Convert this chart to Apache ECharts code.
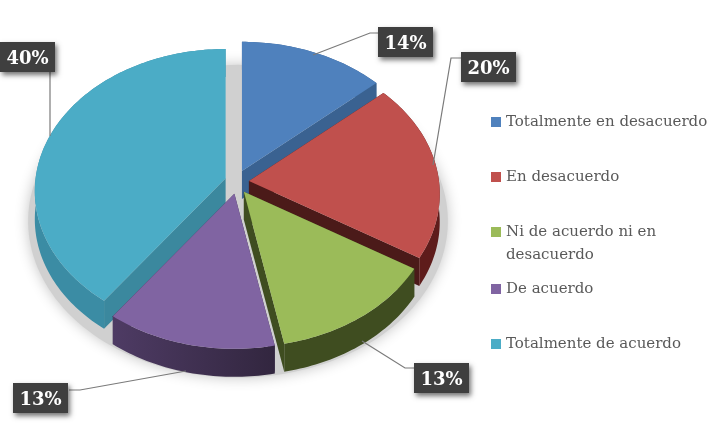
<!DOCTYPE html>
<html><head><meta charset="utf-8">
<style>html,body{margin:0;background:#fff}#c{width:720px;height:432px;filter:blur(0.4px)}</style>
<script src="https://cdn.jsdelivr.net/npm/echarts@6/dist/echarts.min.js"></script>
</head><body><div id="c"></div>
<script>
const categories = ['Totalmente en desacuerdo','En desacuerdo','Ni de acuerdo ni en desacuerdo','De acuerdo','Totalmente de acuerdo'];
const values = [13.5,20.2,13.2,13.2,39.9];
const topColors = ['#4F81BD','#C0504D','#9BBB59','#8064A2','#4BACC6'];
const faceColors = ['#3A6291','#4B1A19','#3F4D20','#3A2A4D','#3B889E'];
const wallLeft = ['#3A6291','#5E1C1B','#3F4D20','#4E3B64','#3B8CA4'];
const wallRight = ['#3A6291','#5E1C1B','#3F4D20','#32263F','#3B8CA4'];
const paintOrder = [0,4,1,2,3];
const labelBoxes = [[378,27],[461,52],[414,363],[13,383],[0,42]];
const leaderLines = [
  [[313,55],[370,33],[378,33]],
  [[433,165],[451,58],[461,58]],
  [[362,341],[405,368],[414,368]],
  [[186,371],[80,390],[69,390]],
  [[50,136],[50,72]]
];
const G = {cx:237, cy:182, rx:190, ry:141, p:0.0909, depth:28, explode:12};
const total = values.reduce((a,b)=>a+b,0);
function proj(cx,cy,t,s){
  s = s||1;
  const X=Math.sin(t), Y=-Math.cos(t), w=1-G.p*Y;
  return [cx+s*G.rx*X/w, cy+s*G.ry*Y/w];
}
function sliceRender(i){
  return function(params, api){
    let before=0; for(let k=0;k<i;k++) before+=values[k];
    const a0=before/total*2*Math.PI, a1=(before+api.value(0))/total*2*Math.PI, mid=(a0+a1)/2;
    const ax=G.cx+G.explode*Math.sin(mid), ay=G.cy-G.explode*Math.cos(mid);
    const arc=[], n=Math.ceil((a1-a0)/0.02);
    for(let k=0;k<=n;k++) arc.push(proj(ax,ay,a0+(a1-a0)*k/n));
    const down=q=>[q[0],q[1]+G.depth];
    const apex=[ax,ay], first=arc[0], last=arc[arc.length-1];
    const order=paintOrder.indexOf(i)*10;
    return {type:'group',children:[
      {type:'polygon',silent:true,z2:order,shape:{points:[apex,first,down(first),down(apex)]},style:{fill:faceColors[i]}},
      {type:'polygon',silent:true,z2:order,shape:{points:[apex,last,down(last),down(apex)]},style:{fill:faceColors[i]}},
      {type:'polygon',silent:true,z2:order+1,shape:{points:arc.concat(arc.slice().reverse().map(down))},
        style:{fill:new echarts.graphic.LinearGradient(0,0,1,0,[{offset:0,color:wallLeft[i]},{offset:1,color:wallRight[i]}])}},
      {type:'polygon',silent:true,z2:order+2,shape:{points:[apex].concat(arc)},style:{fill:topColors[i]}}
    ]};
  };
}
const series = paintOrder.map(i=>({
  type:'custom',name:categories[i],coordinateSystem:'none',z:3,silent:true,
  itemStyle:{color:topColors[i]},data:[[values[i]]],renderItem:sliceRender(i)
}));
series.push({
  type:'custom',coordinateSystem:'none',z:1,silent:true,data:[[1]],
  renderItem(){
    const pts=[];
    for(let k=0;k<180;k++) pts.push(proj(238,207,k/180*2*Math.PI,1.1));
    return {type:'polygon',silent:true,shape:{points:pts},style:{fill:'#d0d0d0',shadowBlur:14,shadowColor:'#c4c4c4'}};
  }
});
series.push({
  type:'custom',coordinateSystem:'none',z:5,silent:true,data:values.map(v=>[v]),
  renderItem(params, api){
    const i=params.dataIndex, b=labelBoxes[i];
    return {type:'group',children:[
      {type:'polyline',silent:true,shape:{points:leaderLines[i]},style:{stroke:'#7a7a7a',lineWidth:1.2,fill:null}},
      {type:'rect',silent:true,shape:{x:b[0],y:b[1],width:55,height:30},
        style:{fill:'#3F3F3F',shadowBlur:5,shadowOffsetX:2,shadowOffsetY:3,shadowColor:'rgba(0,0,0,0.55)'}},
      {type:'text',silent:true,z2:2,style:{x:b[0]+27.5,y:b[1]+17,text:Math.round(api.value(0))+'%',align:'center',verticalAlign:'middle',
        fill:'#fff',font:'bold 18px "DejaVu Serif"'}}
    ]};
  }
});
const legendText = {color:'#595959',fontFamily:'DejaVu Serif',fontSize:15,lineHeight:23};
function legendGroup(names,top,fmt){
  return {show:true,orient:'vertical',left:491,top:top,padding:0,itemWidth:10,itemHeight:10,itemGap:32,icon:'rect',
    selectedMode:false,data:names,textStyle:legendText,formatter:fmt||(n=>n)};
}
const chart = echarts.init(document.getElementById('c'));
chart.setOption({
  animation:false,backgroundColor:'#fff',
  legend:[
    legendGroup(categories.slice(0,2),110.5),
    legendGroup([categories[2]],197.5,()=>'\nNi de acuerdo ni en\ndesacuerdo'),
    legendGroup(categories.slice(3),277.5)
  ],
  series:series
});
</script></body></html>
